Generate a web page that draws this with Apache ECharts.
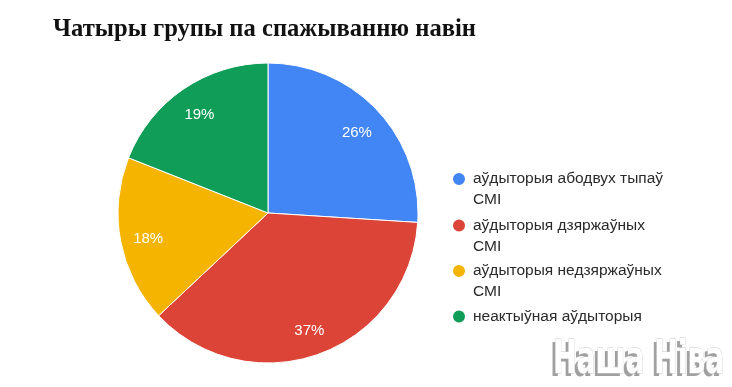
<!DOCTYPE html>
<html><head><meta charset="utf-8">
<script src="https://cdn.jsdelivr.net/npm/echarts@6/dist/echarts.min.js"></script>
<style>html,body{margin:0;padding:0;background:#fff}#c{width:732px;height:387px}</style>
</head><body><div id="c"></div>
<script>
const titleText = 'Чатыры групы па спажыванню навін';
const categories = ['аўдыторыя абодвух тыпаў СМІ', 'аўдыторыя дзяржаўных СМІ', 'аўдыторыя недзяржаўных СМІ', 'неактыўная аўдыторыя'];
const values = [26, 37, 18, 19];
const colors = ['#4285f4', '#db4437', '#f4b400', '#0f9d58'];
const watermark = 'Наша Ніва';

const chart = echarts.init(document.getElementById('c'));
const data = categories.map((n, i) => ({ name: n, value: values[i], itemStyle: { color: colors[i] } }));
const iconCenters = [179, 225.5, 271, 316.5];
const legends = categories.map((n, i) => {
  const two = n.endsWith(' СМІ');
  return {
    data: [n], orient: 'vertical', left: 451, top: two ? iconCenters[i] - 31.5 : iconCenters[i] - 10.5,
    padding: 0, icon: 'circle', itemWidth: 14, itemHeight: 14,
    formatter: name => two ? ' \n' + name.replace(/ СМІ$/, '\nСМІ') : name,
    textStyle: { fontFamily: 'Liberation Sans', fontSize: 15.5, color: '#2a2a2a', lineHeight: 21, padding: [0, 0, 0, 2] },
    selectedMode: false
  };
});
const wmFont = 'bold 46px "DejaVu Sans Condensed"';
chart.setOption({
  backgroundColor: '#fff',
  animation: false,
  title: { text: titleText, left: 48, top: 12, textStyle: { fontFamily: 'Liberation Serif', fontWeight: 'bold', fontSize: 24.6, color: '#111' } },
  legend: legends,
  series: [
    { type: 'pie', center: [268, 213], radius: 150, startAngle: 90, clockwise: true, data: data,
      label: { show: false }, labelLine: { show: false }, itemStyle: { borderColor: '#fff', borderWidth: 1 }, emphasis: { disabled: true } },
    { type: 'pie', center: [268, 213], radius: [88, 150], startAngle: 90, clockwise: true, silent: true,
      data: categories.map((n, i) => ({ name: n, value: values[i] })),
      itemStyle: { color: 'transparent' },
      label: { show: true, position: 'inside', formatter: '{c}%', color: '#fff', fontFamily: 'Liberation Sans', fontSize: 15, offset: [0, 3] },
      labelLine: { show: false }, emphasis: { disabled: true } }
  ],
  graphic: [
    { type: 'text', x: 550, y: 341, scaleX: 0.68, silent: true, style: { text: watermark, font: wmFont, textAlign: 'left', textVerticalAlign: 'top', fill: '#a0a0a0' } },
    { type: 'text', x: 553, y: 338, scaleX: 0.68, silent: true, style: { text: watermark, font: wmFont, textAlign: 'left', textVerticalAlign: 'top', fill: '#fff', stroke: '#c8c8c8', lineWidth: 0.8 } }
  ]
});
</script></body></html>
